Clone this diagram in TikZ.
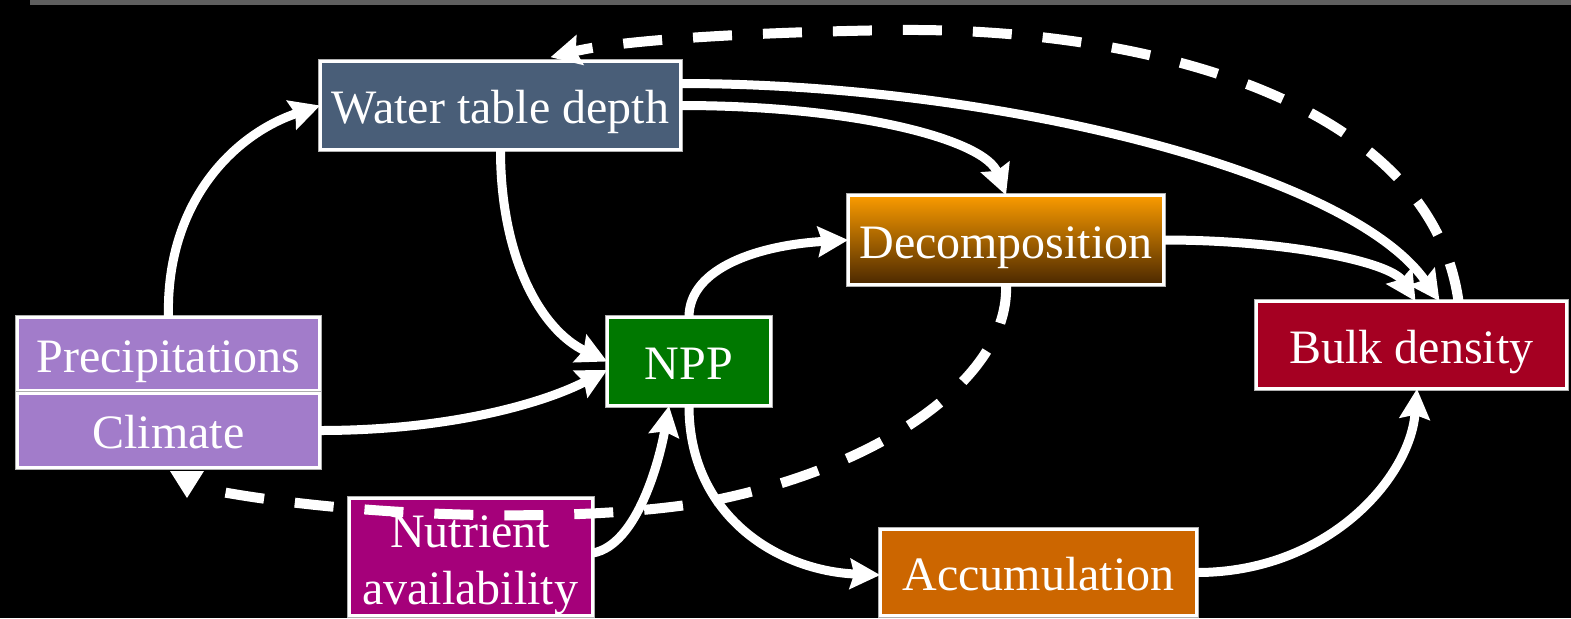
\documentclass[tikz,border=0pt]{standalone}
\usepackage{fontspec}
\setmainfont{Liberation Serif}
\usetikzlibrary{arrows.meta,calc}
\definecolor{wtdc}{RGB}{73,94,120}
\definecolor{precc}{RGB}{162,124,202}
\definecolor{nppc}{RGB}{0,120,0}
\definecolor{nutc}{RGB}{165,0,122}
\definecolor{accc}{RGB}{204,102,0}
\definecolor{bulkc}{RGB}{165,0,34}
\definecolor{dectop}{RGB}{250,155,0}
\definecolor{decbot}{RGB}{75,40,0}
\definecolor{edgec}{RGB}{175,175,175}
\definecolor{stripc}{RGB}{95,95,95}
\begin{document}
\begin{tikzpicture}[x=0.5pt,y=-0.5pt,
  box/.style={draw=edgec, double=white, double distance=1.6pt, line width=0.3pt,
    inner sep=0pt, outer sep=0pt, text=white,
    font=\fontsize{24pt}{28.5pt}\selectfont, text height=20pt, text depth=2pt},
  lbl/.style={text=white, inner sep=0pt, font=\fontsize{24pt}{28.5pt}\selectfont},
  arr/.style={draw=white, line width=4.5pt, -{Stealth[length=15pt,width=15pt,inset=2pt]}},
  dsh/.style={draw=white, line width=5pt, dash pattern=on 19.5pt off 15.5pt},
  dsharr/.style={dsh, -{Stealth[length=15pt,width=15pt,inset=2pt]}}]
\useasboundingbox (0,0) rectangle (1571,618);
\fill[black] (0,0) rectangle (1571,618);
\fill[stripc] (30,0) rectangle (1571,5);
\begin{scope}
\clip (0,0) rectangle (1571,618);
% nodes
\node[box, fill=wtdc, minimum width=180.3pt, minimum height=44.3pt] (wtd) at (500.5,105.5) {Water table depth};
\node[box, top color=dectop, bottom color=decbot, minimum width=157.8pt, minimum height=44.8pt] (dec) at (1006,240) {Decomposition};
\node[box, fill=nppc, minimum width=81.8pt, minimum height=44.3pt] (npp) at (689,361.5) {NPP};
\node[box, fill=bulkc, minimum width=155.3pt, minimum height=43.8pt] (bulk) at (1411.5,345) {Bulk density};
\node[box, fill=precc, minimum width=151.3pt, minimum height=36.8pt] (prec) at (168.5,354) {Precipitations};
\node[box, fill=precc, minimum width=151.3pt, minimum height=37.3pt] (clim) at (168.5,430.5) {Climate};
\node[box, fill=nutc, minimum width=121.8pt, minimum height=58.8pt] (nut) at (471,557) {};
\node[lbl, anchor=base] (nut1) at (470,547) {Nutrient};
\node[lbl, anchor=base] (nut2) at (470,604) {availability};
\node[box, fill=accc, minimum width=158.3pt, minimum height=43.3pt] (acc) at (1038.5,572.5) {Accumulation};
% solid connectors
\draw[arr] (prec.north) .. controls +(-3,-114) and +(-87,29) .. (wtd.west);
\draw[arr] (wtd.south) .. controls +(0,107) and +(-67,-32) .. (npp.west);
\draw[arr] (clim.east) .. controls +(138,0) and +(-57,30) .. ([yshift=-4.25pt]npp.west);
\draw[arr] (wtd.east) .. controls +(177,0) and +(-21,-55) .. (dec.north);
\draw[arr] ([yshift=11pt]wtd.east) .. controls +(317,0) and +(-90,-129) .. ([xshift=14pt]bulk.north);
\draw[arr] (npp.north) .. controls +(0,-50) and +(-88,5) .. (dec.west);
\draw[arr] (dec.east) .. controls +(124,0) and +(-25,-39) .. ([xshift=2pt]bulk.north);
\draw[arr] (npp.south) .. controls +(0,112) and +(-100,-4) .. ([yshift=-1.25pt]acc.west);
\draw[arr] (acc.east) .. controls +(131,0) and +(-7,89) .. ([xshift=2.75pt]bulk.south);
\draw[arr] ([yshift=2pt]nut.east) .. controls +(45,-8) and +(-9,52) .. ([xshift=-10pt]npp.south);
% dashed connectors
\draw[dsharr] ([xshift=23.5pt]bulk.north) .. controls +(-28,-199) and (1150,28) .. (900,30)
   .. controls (750,32) and +(70,-17) .. ([xshift=25pt,yshift=2pt]wtd.north);
\coordinate (cltail) at (222,492);
\draw[dsh] (dec.south) .. controls +(4,93) and (880,470) .. (700,503)
   .. controls (560,525) and (350,515) .. (cltail);
\fill[white] (170,471) -- (204,471) -- (187,498) -- cycle;
\end{scope}
\end{tikzpicture}
\end{document}
